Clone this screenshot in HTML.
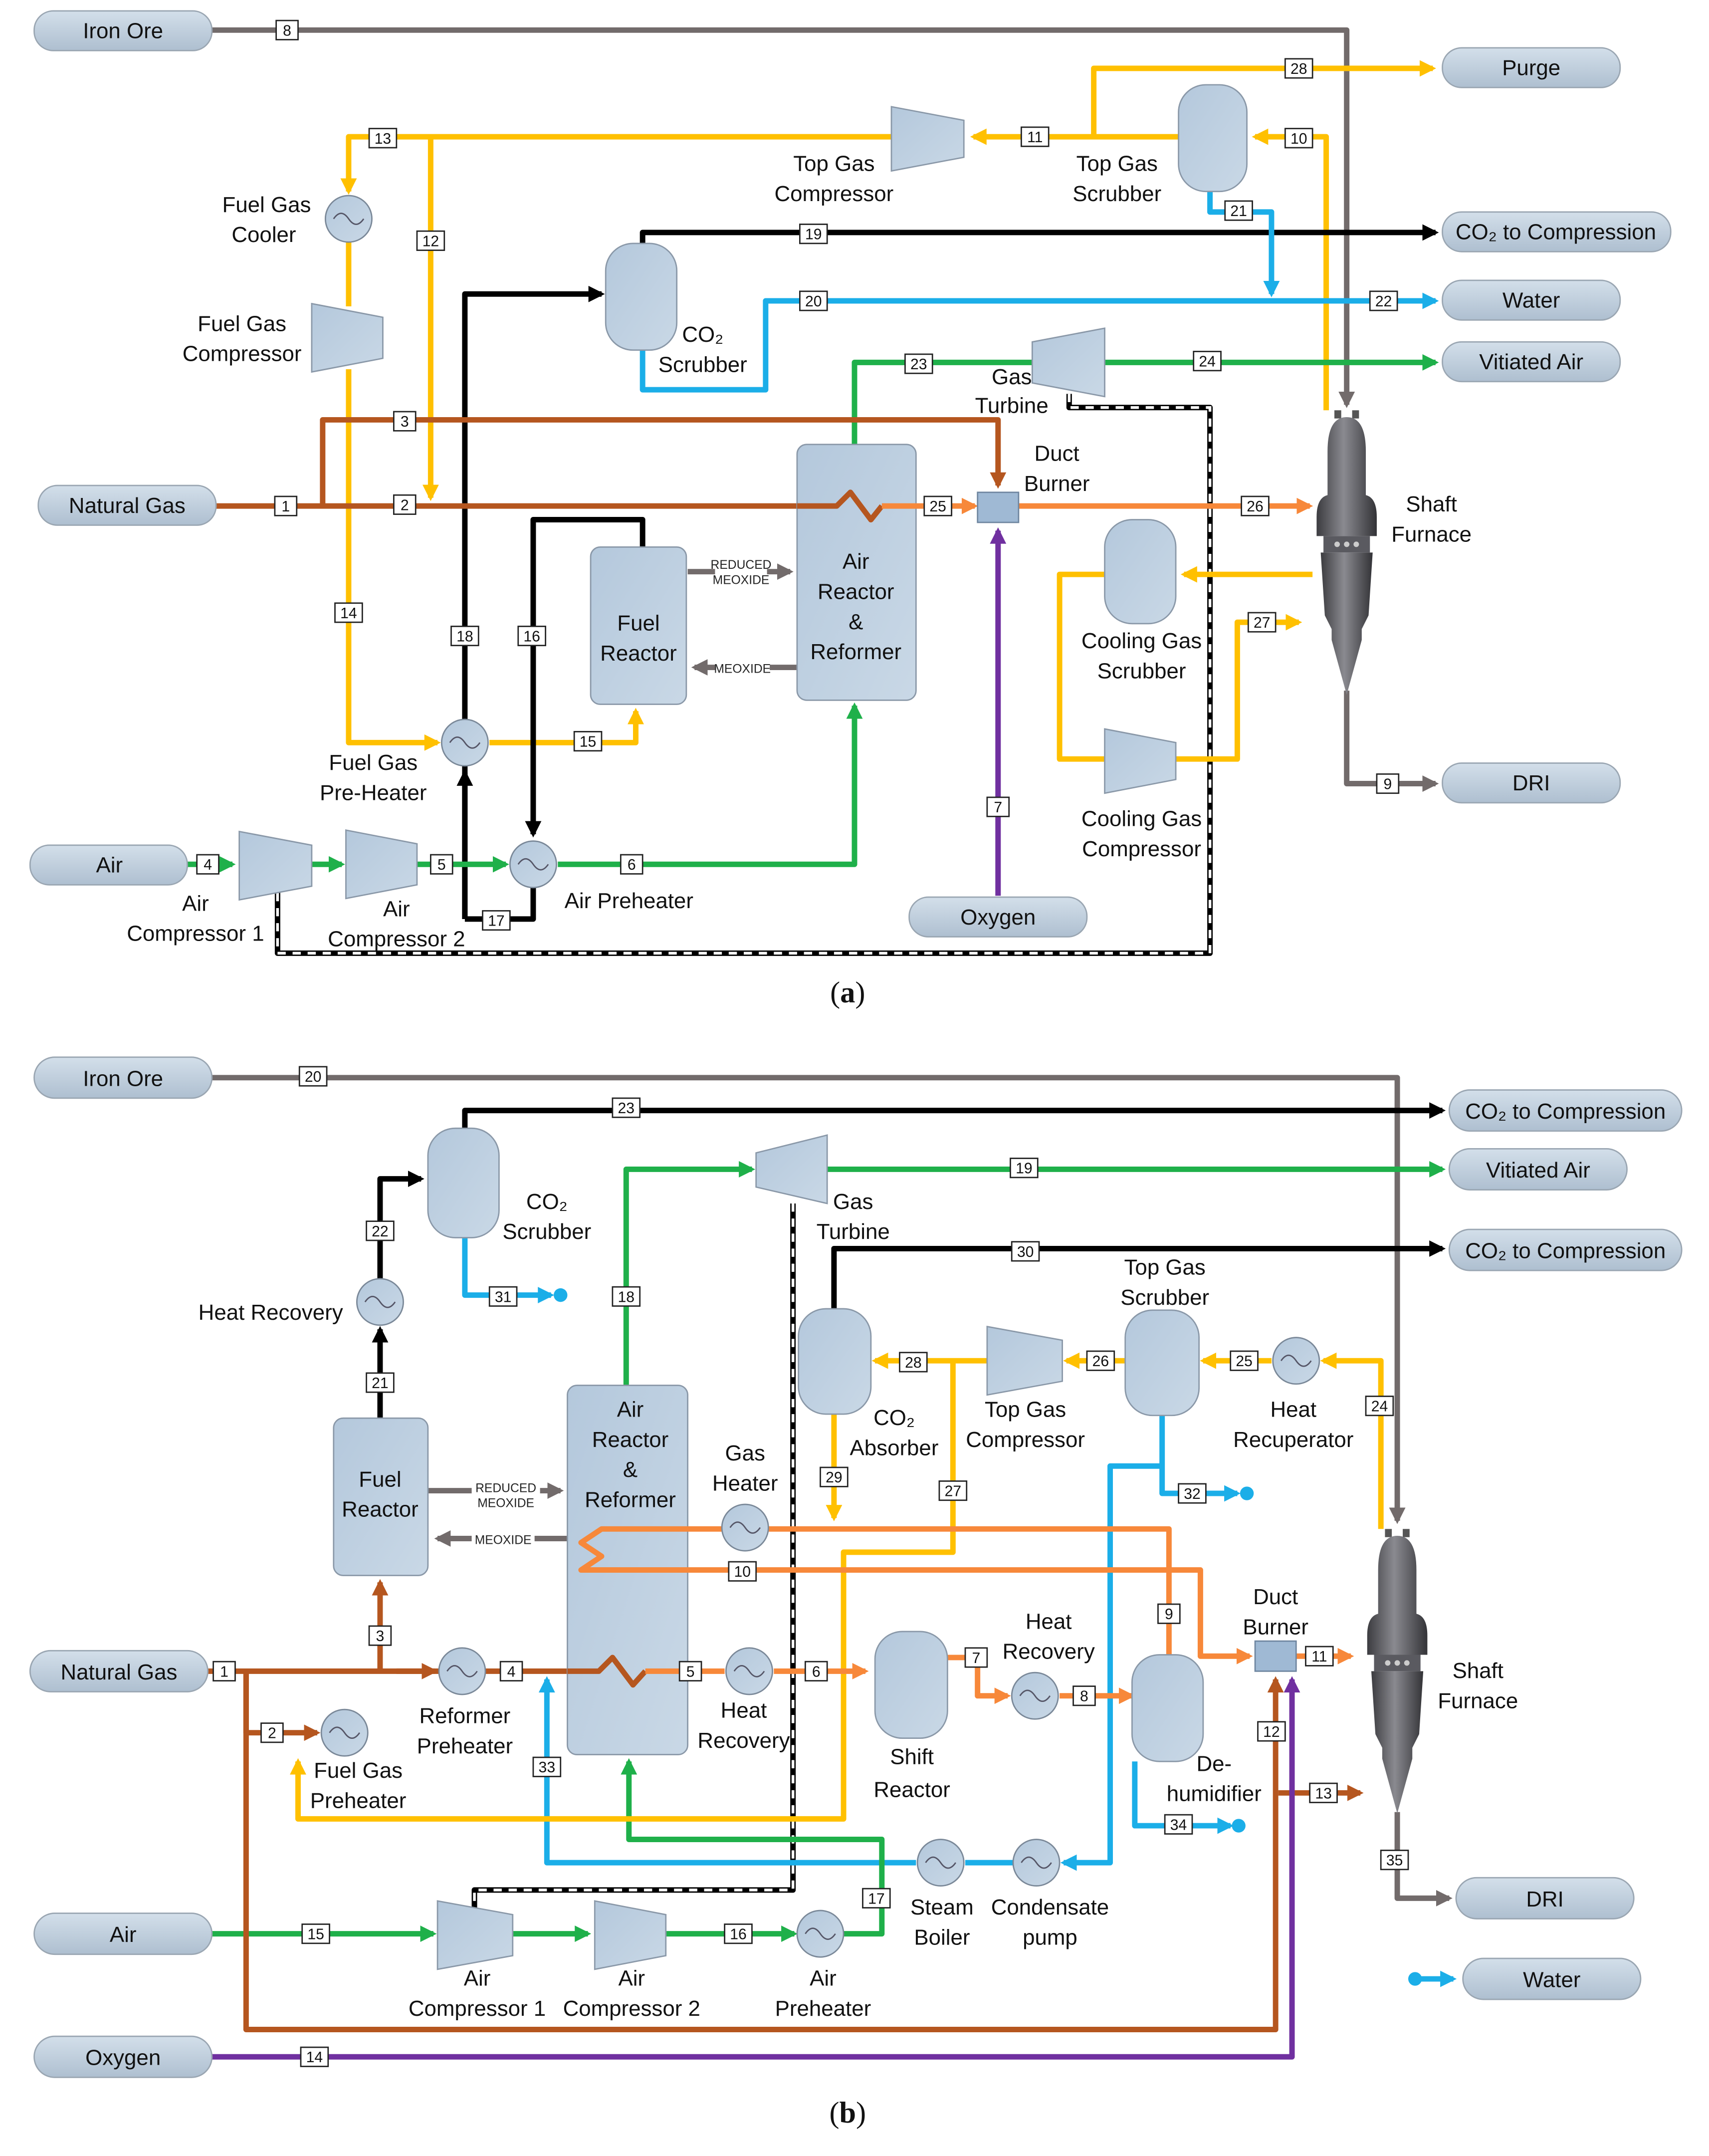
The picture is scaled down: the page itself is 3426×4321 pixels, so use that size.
<!DOCTYPE html>
<html><head><meta charset="utf-8"><style>
html,body{margin:0;padding:0;background:#fff}
svg{display:block}
text{font-family:"Liberation Sans",sans-serif;fill:#111}
.t{font-size:16px;text-anchor:middle}
.bx rect{fill:#fff;stroke:#222;stroke-width:1}
.n{font-size:11px;text-anchor:middle}
.l{fill:none;stroke-width:4;stroke-linejoin:round}
.Y{stroke:#FFC000}.O{stroke:#F7883A}.B{stroke:#B5561F}.K{stroke:#000}.C{stroke:#1BAEE8}.G{stroke:#1FB04A}.R{stroke:#726B6B}.P{stroke:#7030A0}
.eq{fill:url(#gq);stroke:#8a98a8;stroke-width:1}
.pill{fill:url(#gp);stroke:#9aa6b2;stroke-width:1}
.hx{fill:url(#gq);stroke:#7a8898;stroke-width:1}
.cap{font-family:"Liberation Serif",serif;font-size:22px;text-anchor:middle}
.sm{font-size:9px;text-anchor:middle;fill:#222}
</style></head><body>
<svg width="3426" height="4321" viewBox="0 0 1250 1576.5" preserveAspectRatio="none" xmlns="http://www.w3.org/2000/svg">
<defs>
<linearGradient id="gq" x1="0" x2="1" y1="0" y2="1"><stop offset="0" stop-color="#b4c8dc"/><stop offset="1" stop-color="#c9d8e6"/></linearGradient>
<linearGradient id="gp" x1="0" x2="0" y1="0" y2="1"><stop offset="0" stop-color="#d3dfea"/><stop offset="1" stop-color="#aebfd0"/></linearGradient>
<linearGradient id="gf" x1="0" x2="1"><stop offset="0" stop-color="#3c3c40"/><stop offset=".45" stop-color="#8a8a90"/><stop offset="1" stop-color="#333337"/></linearGradient>
<marker id="mY" viewBox="0 0 10 10" refX="8" refY="5" markerWidth="3" markerHeight="3" orient="auto"><path d="M0,0L10,5L0,10z" fill="#FFC000"/></marker>
<marker id="mO" viewBox="0 0 10 10" refX="8" refY="5" markerWidth="3" markerHeight="3" orient="auto"><path d="M0,0L10,5L0,10z" fill="#F7883A"/></marker>
<marker id="mB" viewBox="0 0 10 10" refX="8" refY="5" markerWidth="3" markerHeight="3" orient="auto"><path d="M0,0L10,5L0,10z" fill="#B5561F"/></marker>
<marker id="mK" viewBox="0 0 10 10" refX="8" refY="5" markerWidth="3" markerHeight="3" orient="auto"><path d="M0,0L10,5L0,10z" fill="#000"/></marker>
<marker id="mC" viewBox="0 0 10 10" refX="8" refY="5" markerWidth="3" markerHeight="3" orient="auto"><path d="M0,0L10,5L0,10z" fill="#1BAEE8"/></marker>
<marker id="mG" viewBox="0 0 10 10" refX="8" refY="5" markerWidth="3" markerHeight="3" orient="auto"><path d="M0,0L10,5L0,10z" fill="#1FB04A"/></marker>
<marker id="mR" viewBox="0 0 10 10" refX="8" refY="5" markerWidth="3" markerHeight="3" orient="auto"><path d="M0,0L10,5L0,10z" fill="#726B6B"/></marker>
<marker id="mP" viewBox="0 0 10 10" refX="8" refY="5" markerWidth="3" markerHeight="3" orient="auto"><path d="M0,0L10,5L0,10z" fill="#7030A0"/></marker>
<g id="fur">
<rect x="-9" y="0" width="5" height="6" fill="#555"/><rect x="4" y="0" width="5" height="6" fill="#555"/>
<path d="M-14,30 Q-14,5 0,5 Q14,5 14,30 L14,62 Q22,64 22,78 L22,92 L-22,92 L-22,78 Q-22,64 -14,62 Z" fill="url(#gf)"/>
<rect x="-17" y="92" width="34" height="12" fill="#5a5a60"/>
<circle cx="-7" cy="98" r="2" fill="#ccc"/><circle cx="0" cy="98" r="2" fill="#ccc"/><circle cx="7" cy="98" r="2" fill="#ccc"/>
<path d="M-19,104 L19,104 L16,150 L11,160 L11,168 L0,208 L-11,168 L-11,160 L-16,150 Z" fill="url(#gf)"/>
</g>
<g id="hx"><circle r="17" class="hx"/><path d="M-11,0 q5.5,-8 11,0 t11,0" fill="none" stroke="#556" stroke-width="1"/></g>
</defs>

<!-- ===================== (a) ===================== -->
<!-- dashed shaft -->
<polyline class="l K" points="782,288 782,298 885,298 885,697 203,697 203,650" stroke-width="5"/>
<polyline points="782,288 782,298 885,298 885,697 203,697 203,650" fill="none" stroke="#fff" stroke-width="2" stroke-dasharray="6 5"/>

<!-- grey -->
<polyline class="l R" points="155,22 985,22 985,296" marker-end="url(#mR)"/>
<polyline class="l R" points="985,505 985,573 1050,573" marker-end="url(#mR)"/>
<!-- yellow -->
<polyline class="l Y" points="800,100 800,50 1048,50" marker-end="url(#mY)"/>
<polyline class="l Y" points="970,300 970,100 918,100" marker-end="url(#mY)"/>
<polyline class="l Y" points="862,100 712,100" marker-end="url(#mY)"/>
<polyline class="l Y" points="655,100 255,100 255,140" marker-end="url(#mY)"/>
<polyline class="l Y" points="315,100 315,364" marker-end="url(#mY)"/>
<polyline class="l Y" points="255,177 255,224"/>
<polyline class="l Y" points="255,270 255,543 320,543" marker-end="url(#mY)"/>
<polyline class="l Y" points="358,543 465,543 465,520" marker-end="url(#mY)"/>
<polyline class="l Y" points="960,420 866,420" marker-end="url(#mY)"/>
<polyline class="l Y" points="808,420 775,420 775,555 808,555"/>
<polyline class="l Y" points="860,555 905,555 905,455 950,455" marker-end="url(#mY)"/>
<!-- black -->
<polyline class="l K" points="470,180 470,170 1050,170" marker-end="url(#mK)"/>
<polyline class="l K" points="340,672 340,215 440,215" marker-end="url(#mK)"/>
<polyline class="l K" points="390,645 390,672 340,672"/>
<polyline class="l K" points="340,672 340,565" marker-end="url(#mK)"/>
<polyline class="l K" points="470,400 470,380 390,380 390,610" marker-end="url(#mK)"/>
<!-- blue -->
<polyline class="l C" points="470,255 470,285 560,285 560,220 1050,220" marker-end="url(#mC)"/>
<polyline class="l C" points="885,140 885,155 930,155 930,215" marker-end="url(#mC)"/>
<!-- green -->
<polyline class="l G" points="625,325 625,265 756,265"/>
<polyline class="l G" points="808,265 1050,265" marker-end="url(#mG)"/>
<polyline class="l G" points="137,632 170,632" marker-end="url(#mG)"/>
<polyline class="l G" points="228,632 250,632" marker-end="url(#mG)"/>
<polyline class="l G" points="305,632 370,632" marker-end="url(#mG)"/>
<polyline class="l G" points="408,632 625,632 625,516" marker-end="url(#mG)"/>
<!-- brown -->
<polyline class="l B" points="158,370 605,370"/>
<polyline class="l B" points="236,370 236,307 730,307 730,355" marker-end="url(#mB)"/>
<!-- purple -->
<polyline class="l P" points="730,655 730,388" marker-end="url(#mP)"/>
<!-- meoxide -->
<polyline class="l R" points="503,418 578,418" stroke-width="5" marker-end="url(#mR)"/>
<polyline class="l R" points="583,488 508,488" stroke-width="5" marker-end="url(#mR)"/>
<rect x="523" y="406" width="38" height="24" fill="#fff"/>
<rect x="523" y="481" width="40" height="14" fill="#fff"/>
<text class="sm" x="542" y="416">REDUCED</text><text class="sm" x="542" y="427">MEOXIDE</text>
<text class="sm" x="543" y="492">MEOXIDE</text>

<!-- equipment (a) -->
<rect class="eq" x="583" y="325" width="87" height="187" rx="7"/>
<polyline class="l B" points="583,370 612,370 622,360 637,380 645,370"/>
<polyline class="l O" points="645,370 713,370" marker-end="url(#mO)"/>
<polyline class="l O" points="745,370 958,370" marker-end="url(#mO)"/>
<rect class="eq" x="432" y="400" width="70" height="115" rx="7"/>
<rect class="eq" x="443" y="178" width="52" height="78" rx="20"/>
<rect class="eq" x="862" y="62" width="50" height="78" rx="20"/>
<rect class="eq" x="808" y="380" width="52" height="76" rx="20"/>
<rect x="715" y="360" width="30" height="22" fill="#9fb9d4" stroke="#6f86a0"/>
<polygon class="eq" points="652,78 705,88 705,115 652,125"/>
<polygon class="eq" points="228,222 280,232 280,262 228,272"/>
<polygon class="eq" points="175,608 228,618 228,648 175,658"/>
<polygon class="eq" points="253,607 305,617 305,647 253,657"/>
<polygon class="eq" points="808,533 860,543 860,570 808,580"/>
<polygon class="eq" points="755,250 808,240 808,290 755,280"/>
<use href="#hx" x="255" y="160"/><use href="#hx" x="340" y="543"/><use href="#hx" x="390" y="632"/>
<use href="#fur" x="985" y="300"/>

<!-- pills (a) -->
<rect class="pill" x="25" y="8" width="130" height="29" rx="14"/><text class="t" x="90" y="28">Iron Ore</text>
<rect class="pill" x="1055" y="35" width="130" height="29" rx="14"/><text class="t" x="1120" y="55">Purge</text>
<rect class="pill" x="1055" y="155" width="167" height="29" rx="14"/><text class="t" x="1138" y="175">CO₂ to Compression</text>
<rect class="pill" x="1055" y="205" width="130" height="29" rx="14"/><text class="t" x="1120" y="225">Water</text>
<rect class="pill" x="1055" y="250" width="130" height="29" rx="14"/><text class="t" x="1120" y="270">Vitiated Air</text>
<rect class="pill" x="28" y="355" width="130" height="29" rx="14"/><text class="t" x="93" y="375">Natural Gas</text>
<rect class="pill" x="1055" y="558" width="130" height="29" rx="14"/><text class="t" x="1120" y="578">DRI</text>
<rect class="pill" x="22" y="618" width="115" height="29" rx="14"/><text class="t" x="80" y="638">Air</text>
<rect class="pill" x="665" y="656" width="130" height="29" rx="14"/><text class="t" x="730" y="676">Oxygen</text>

<!-- labels (a) -->
<text class="t" x="610" y="125">Top Gas</text><text class="t" x="610" y="147">Compressor</text>
<text class="t" x="817" y="125">Top Gas</text><text class="t" x="817" y="147">Scrubber</text>
<text class="t" x="195" y="155">Fuel Gas</text><text class="t" x="193" y="177">Cooler</text>
<text class="t" x="177" y="242">Fuel Gas</text><text class="t" x="177" y="264">Compressor</text>
<text class="t" x="514" y="250">CO₂</text><text class="t" x="514" y="272">Scrubber</text>
<text class="t" x="740" y="281">Gas</text><text class="t" x="740" y="302">Turbine</text>
<text class="t" x="773" y="337">Duct</text><text class="t" x="773" y="359">Burner</text>
<text class="t" x="1047" y="374">Shaft</text><text class="t" x="1047" y="396">Furnace</text>
<text class="t" x="467" y="461">Fuel</text><text class="t" x="467" y="483">Reactor</text>
<text class="t" x="626" y="416">Air</text><text class="t" x="626" y="438">Reactor</text><text class="t" x="626" y="460">&amp;</text><text class="t" x="626" y="482">Reformer</text>
<text class="t" x="835" y="474">Cooling Gas</text><text class="t" x="835" y="496">Scrubber</text>
<text class="t" x="835" y="604">Cooling Gas</text><text class="t" x="835" y="626">Compressor</text>
<text class="t" x="273" y="563">Fuel Gas</text><text class="t" x="273" y="585">Pre-Heater</text>
<text class="t" x="460" y="664">Air Preheater</text>
<text class="t" x="143" y="666">Air</text><text class="t" x="143" y="688">Compressor 1</text>
<text class="t" x="290" y="670">Air</text><text class="t" x="290" y="692">Compressor 2</text>
<text class="cap" x="620" y="733">(<tspan font-weight="bold">a</tspan>)</text>

<!-- boxes (a) -->
<g class="bx">
<rect x="202" y="15" width="16" height="14"/><rect x="940" y="43" width="20" height="14"/><rect x="940" y="94" width="20" height="14"/><rect x="747" y="93" width="20" height="14"/>
<rect x="270" y="94" width="20" height="14"/><rect x="305" y="169" width="20" height="14"/><rect x="585" y="164" width="20" height="14"/><rect x="896" y="147" width="20" height="14"/>
<rect x="585" y="213" width="20" height="14"/><rect x="1002" y="213" width="20" height="14"/><rect x="662" y="259" width="20" height="14"/><rect x="873" y="257" width="20" height="14"/>
<rect x="288" y="301" width="16" height="14"/><rect x="201" y="363" width="16" height="14"/><rect x="288" y="362" width="16" height="14"/><rect x="676" y="363" width="20" height="14"/>
<rect x="908" y="363" width="20" height="14"/><rect x="913" y="448" width="20" height="14"/><rect x="245" y="441" width="20" height="14"/><rect x="330" y="458" width="20" height="14"/>
<rect x="379" y="458" width="20" height="14"/><rect x="420" y="535" width="20" height="14"/><rect x="144" y="625" width="16" height="14"/><rect x="315" y="625" width="16" height="14"/>
<rect x="454" y="625" width="16" height="14"/><rect x="353" y="666" width="20" height="14"/><rect x="722" y="583" width="16" height="14"/><rect x="1007" y="566" width="16" height="14"/>
</g>
<g>
<text class="n" x="210" y="26">8</text><text class="n" x="950" y="54">28</text><text class="n" x="950" y="105">10</text><text class="n" x="757" y="104">11</text>
<text class="n" x="280" y="105">13</text><text class="n" x="315" y="180">12</text><text class="n" x="595" y="175">19</text><text class="n" x="906" y="158">21</text>
<text class="n" x="595" y="224">20</text><text class="n" x="1012" y="224">22</text><text class="n" x="672" y="270">23</text><text class="n" x="883" y="268">24</text>
<text class="n" x="296" y="312">3</text><text class="n" x="209" y="374">1</text><text class="n" x="296" y="373">2</text><text class="n" x="686" y="374">25</text>
<text class="n" x="918" y="374">26</text><text class="n" x="923" y="459">27</text><text class="n" x="255" y="452">14</text><text class="n" x="340" y="469">18</text>
<text class="n" x="389" y="469">16</text><text class="n" x="430" y="546">15</text><text class="n" x="152" y="636">4</text><text class="n" x="323" y="636">5</text>
<text class="n" x="462" y="636">6</text><text class="n" x="363" y="677">17</text><text class="n" x="730" y="594">7</text><text class="n" x="1015" y="577">9</text>
</g>

<!-- ===================== (b) ===================== -->
<polyline class="l K" points="580,880 580,1382 347,1382 347,1395" stroke-width="5"/>
<polyline points="580,880 580,1382 347,1382 347,1395" fill="none" stroke="#fff" stroke-width="2" stroke-dasharray="6 5"/>
<!-- grey -->
<polyline class="l R" points="155,788 1022,788 1022,1112" marker-end="url(#mR)"/>
<polyline class="l R" points="1022,1325 1022,1388 1060,1388" marker-end="url(#mR)"/>
<!-- black -->
<polyline class="l K" points="340,828 340,812 1055,812" marker-end="url(#mK)"/>
<polyline class="l K" points="278,935 278,862 308,862" marker-end="url(#mK)"/>
<polyline class="l K" points="278,1037 278,972" marker-end="url(#mK)"/>
<polyline class="l K" points="610,958 610,913 1055,913" marker-end="url(#mK)"/>
<!-- blue -->
<polyline class="l C" points="340,905 340,947 403,947" marker-end="url(#mC)"/>
<circle cx="410" cy="947" r="5" fill="#1BAEE8"/>
<polyline class="l C" points="850,1035 850,1092 905,1092" marker-end="url(#mC)"/>
<circle cx="912" cy="1092" r="5" fill="#1BAEE8"/>
<polyline class="l C" points="830,1288 830,1335 900,1335" marker-end="url(#mC)"/>
<circle cx="906" cy="1335" r="5" fill="#1BAEE8"/>
<polyline class="l C" points="1035,1447 1063,1447" marker-end="url(#mC)"/>
<circle cx="1035" cy="1447" r="5" fill="#1BAEE8"/>
<polyline class="l C" points="850,1072 812,1072 812,1362 778,1362" marker-end="url(#mC)"/>
<polyline class="l C" points="741,1362 706,1362"/>
<polyline class="l C" points="670,1362 400,1362 400,1228" marker-end="url(#mC)"/>
<!-- green -->
<polyline class="l G" points="605,855 1055,855" marker-end="url(#mG)"/>
<polyline class="l G" points="458,1013 458,855 550,855" marker-end="url(#mG)"/>
<polyline class="l G" points="155,1414 317,1414" marker-end="url(#mG)"/>
<polyline class="l G" points="375,1414 430,1414" marker-end="url(#mG)"/>
<polyline class="l G" points="487,1414 581,1414" marker-end="url(#mG)"/>
<polyline class="l G" points="617,1414 645,1414 645,1345 460,1345 460,1288" marker-end="url(#mG)"/>
<!-- yellow -->
<polyline class="l Y" points="1010,1118 1010,995 968,995" marker-end="url(#mY)"/>
<polyline class="l Y" points="930,995 880,995" marker-end="url(#mY)"/>
<polyline class="l Y" points="823,995 780,995" marker-end="url(#mY)"/>
<polyline class="l Y" points="722,995 640,995" marker-end="url(#mY)"/>
<polyline class="l Y" points="697,995 697,1135 617,1135 617,1330 218,1330 218,1288" marker-end="url(#mY)"/>
<polyline class="l Y" points="610,1033 610,1110" marker-end="url(#mY)"/>
<!-- brown -->
<polyline class="l B" points="152,1222 440,1222"/>
<polyline class="l B" points="278,1222 278,1157" marker-end="url(#mB)"/>
<polyline class="l B" points="290,1222 318,1222" marker-end="url(#mB)"/>
<polyline class="l B" points="180,1222 180,1267 232,1267" marker-end="url(#mB)"/>
<polyline class="l B" points="180,1222 180,1484 933,1484 933,1228" marker-end="url(#mB)"/>
<polyline class="l B" points="935,1311 995,1311" marker-end="url(#mB)"/>
<!-- purple -->
<polyline class="l P" points="155,1504 945,1504 945,1228" marker-end="url(#mP)"/>
<!-- meoxide -->
<polyline class="l R" points="313,1090 410,1090" stroke-width="5" marker-end="url(#mR)"/>
<polyline class="l R" points="415,1125 320,1125" stroke-width="5" marker-end="url(#mR)"/>
<rect x="345" y="1080" width="50" height="24" fill="#fff"/>
<rect x="345" y="1118" width="46" height="14" fill="#fff"/>
<text class="sm" x="370" y="1091">REDUCED</text><text class="sm" x="370" y="1102">MEOXIDE</text>
<text class="sm" x="368" y="1129">MEOXIDE</text>

<!-- equipment (b) -->
<rect class="eq" x="415" y="1013" width="88" height="270" rx="7"/>
<polyline class="l B" points="415,1222 438,1222 448,1212 463,1232 472,1222"/>
<polyline class="l O" points="472,1222 530,1222"/>
<polyline class="l O" points="566,1222 633,1222" marker-end="url(#mO)"/>
<polyline class="l O" points="693,1212 715,1212 715,1240 737,1240" marker-end="url(#mO)"/>
<polyline class="l O" points="775,1240 828,1240" marker-end="url(#mO)"/>
<polyline class="l O" points="855,1210 855,1118 562,1118"/>
<polyline class="l O" points="528,1118 440,1118 425,1128 440,1138 425,1148 440,1148 878,1148 878,1211 914,1211" marker-end="url(#mO)"/>
<polyline class="l O" points="948,1211 988,1211" marker-end="url(#mO)"/>
<rect class="eq" x="244" y="1037" width="69" height="115" rx="7"/>
<rect class="eq" x="313" y="825" width="52" height="80" rx="20"/>
<rect class="eq" x="584" y="957" width="53" height="77" rx="20"/>
<rect class="eq" x="823" y="958" width="54" height="77" rx="20"/>
<rect class="eq" x="828" y="1210" width="52" height="78" rx="20"/>
<rect class="eq" x="640" y="1193" width="53" height="78" rx="20"/>
<rect x="918" y="1200" width="30" height="22" fill="#9fb9d4" stroke="#6f86a0"/>
<polygon class="eq" points="553,843 605,830 605,880 553,868"/>
<polygon class="eq" points="722,970 777,980 777,1010 722,1020"/>
<polygon class="eq" points="320,1390 375,1400 375,1430 320,1440"/>
<polygon class="eq" points="435,1390 487,1400 487,1430 435,1440"/>
<use href="#hx" x="278" y="952"/><use href="#hx" x="948" y="995"/><use href="#hx" x="545" y="1117"/>
<use href="#hx" x="338" y="1222"/><use href="#hx" x="252" y="1267"/><use href="#hx" x="548" y="1222"/>
<use href="#hx" x="757" y="1240"/><use href="#hx" x="600" y="1414"/><use href="#hx" x="688" y="1362"/><use href="#hx" x="758" y="1362"/>
<use href="#fur" x="1022" y="1118"/>

<!-- pills (b) -->
<rect class="pill" x="25" y="773" width="130" height="30" rx="15"/><text class="t" x="90" y="794">Iron Ore</text>
<rect class="pill" x="1060" y="797" width="170" height="30" rx="15"/><text class="t" x="1145" y="818">CO₂ to Compression</text>
<rect class="pill" x="1060" y="840" width="130" height="30" rx="15"/><text class="t" x="1125" y="861">Vitiated Air</text>
<rect class="pill" x="1060" y="899" width="170" height="30" rx="15"/><text class="t" x="1145" y="920">CO₂ to Compression</text>
<rect class="pill" x="22" y="1207" width="130" height="30" rx="15"/><text class="t" x="87" y="1228">Natural Gas</text>
<rect class="pill" x="25" y="1399" width="130" height="30" rx="15"/><text class="t" x="90" y="1420">Air</text>
<rect class="pill" x="1065" y="1373" width="130" height="30" rx="15"/><text class="t" x="1130" y="1394">DRI</text>
<rect class="pill" x="1070" y="1432" width="130" height="30" rx="15"/><text class="t" x="1135" y="1453">Water</text>
<rect class="pill" x="25" y="1489" width="130" height="30" rx="15"/><text class="t" x="90" y="1510">Oxygen</text>

<!-- labels (b) -->
<text class="t" x="400" y="884">CO₂</text><text class="t" x="400" y="906">Scrubber</text>
<text class="t" x="624" y="884">Gas</text><text class="t" x="624" y="906">Turbine</text>
<text class="t" x="198" y="965">Heat Recovery</text>
<text class="t" x="852" y="932">Top Gas</text><text class="t" x="852" y="954">Scrubber</text>
<text class="t" x="278" y="1087">Fuel</text><text class="t" x="278" y="1109">Reactor</text>
<text class="t" x="461" y="1036">Air</text><text class="t" x="461" y="1058">Reactor</text><text class="t" x="461" y="1080">&amp;</text><text class="t" x="461" y="1102">Reformer</text>
<text class="t" x="654" y="1042">CO₂</text><text class="t" x="654" y="1064">Absorber</text>
<text class="t" x="750" y="1036">Top Gas</text><text class="t" x="750" y="1058">Compressor</text>
<text class="t" x="946" y="1036">Heat</text><text class="t" x="946" y="1058">Recuperator</text>
<text class="t" x="545" y="1068">Gas</text><text class="t" x="545" y="1090">Heater</text>
<text class="t" x="767" y="1191">Heat</text><text class="t" x="767" y="1213">Recovery</text>
<text class="t" x="933" y="1173">Duct</text><text class="t" x="933" y="1195">Burner</text>
<text class="t" x="1081" y="1227">Shaft</text><text class="t" x="1081" y="1249">Furnace</text>
<text class="t" x="340" y="1260">Reformer</text><text class="t" x="340" y="1282">Preheater</text>
<text class="t" x="544" y="1256">Heat</text><text class="t" x="544" y="1278">Recovery</text>
<text class="t" x="667" y="1290">Shift</text><text class="t" x="667" y="1314">Reactor</text>
<text class="t" x="888" y="1295">De-</text><text class="t" x="888" y="1317">humidifier</text>
<text class="t" x="262" y="1300">Fuel Gas</text><text class="t" x="262" y="1322">Preheater</text>
<text class="t" x="689" y="1400">Steam</text><text class="t" x="689" y="1422">Boiler</text>
<text class="t" x="768" y="1400">Condensate</text><text class="t" x="768" y="1422">pump</text>
<text class="t" x="349" y="1452">Air</text><text class="t" x="349" y="1474">Compressor 1</text>
<text class="t" x="462" y="1452">Air</text><text class="t" x="462" y="1474">Compressor 2</text>
<text class="t" x="602" y="1452">Air</text><text class="t" x="602" y="1474">Preheater</text>
<text class="cap" x="620" y="1552">(<tspan font-weight="bold">b</tspan>)</text>

<!-- boxes (b) -->
<g class="bx">
<rect x="219" y="780" width="20" height="14"/><rect x="448" y="803" width="20" height="14"/><rect x="739" y="847" width="20" height="14"/><rect x="740" y="908" width="20" height="14"/>
<rect x="268" y="893" width="20" height="14"/><rect x="358" y="941" width="20" height="14"/><rect x="448" y="941" width="20" height="14"/><rect x="268" y="1004" width="20" height="14"/>
<rect x="999" y="1021" width="20" height="14"/><rect x="900" y="988" width="20" height="14"/><rect x="795" y="988" width="20" height="14"/><rect x="658" y="989" width="20" height="14"/>
<rect x="600" y="1073" width="20" height="14"/><rect x="687" y="1083" width="20" height="14"/><rect x="862" y="1085" width="20" height="14"/><rect x="533" y="1142" width="20" height="14"/>
<rect x="847" y="1173" width="16" height="14"/><rect x="955" y="1204" width="20" height="14"/><rect x="270" y="1189" width="16" height="14"/><rect x="156" y="1215" width="16" height="14"/>
<rect x="191" y="1260" width="16" height="14"/><rect x="366" y="1215" width="16" height="14"/><rect x="497" y="1215" width="16" height="14"/><rect x="589" y="1215" width="16" height="14"/>
<rect x="706" y="1205" width="16" height="14"/><rect x="785" y="1233" width="16" height="14"/><rect x="920" y="1259" width="20" height="14"/><rect x="958" y="1304" width="20" height="14"/>
<rect x="390" y="1285" width="20" height="14"/><rect x="852" y="1327" width="20" height="14"/><rect x="1010" y="1353" width="20" height="14"/><rect x="631" y="1381" width="20" height="14"/>
<rect x="221" y="1407" width="20" height="14"/><rect x="530" y="1407" width="20" height="14"/><rect x="220" y="1497" width="20" height="14"/>
</g>
<g>
<text class="n" x="229" y="791">20</text><text class="n" x="458" y="814">23</text><text class="n" x="749" y="858">19</text><text class="n" x="750" y="919">30</text>
<text class="n" x="278" y="904">22</text><text class="n" x="368" y="952">31</text><text class="n" x="458" y="952">18</text><text class="n" x="278" y="1015">21</text>
<text class="n" x="1009" y="1032">24</text><text class="n" x="910" y="999">25</text><text class="n" x="805" y="999">26</text><text class="n" x="668" y="1000">28</text>
<text class="n" x="610" y="1084">29</text><text class="n" x="697" y="1094">27</text><text class="n" x="872" y="1096">32</text><text class="n" x="543" y="1153">10</text>
<text class="n" x="855" y="1184">9</text><text class="n" x="965" y="1215">11</text><text class="n" x="278" y="1200">3</text><text class="n" x="164" y="1226">1</text>
<text class="n" x="199" y="1271">2</text><text class="n" x="374" y="1226">4</text><text class="n" x="505" y="1226">5</text><text class="n" x="597" y="1226">6</text>
<text class="n" x="714" y="1216">7</text><text class="n" x="793" y="1244">8</text><text class="n" x="930" y="1270">12</text><text class="n" x="968" y="1315">13</text>
<text class="n" x="400" y="1296">33</text><text class="n" x="862" y="1338">34</text><text class="n" x="1020" y="1364">35</text><text class="n" x="641" y="1392">17</text>
<text class="n" x="231" y="1418">15</text><text class="n" x="540" y="1418">16</text><text class="n" x="230" y="1508">14</text>
</g>
</svg>
</body></html>
